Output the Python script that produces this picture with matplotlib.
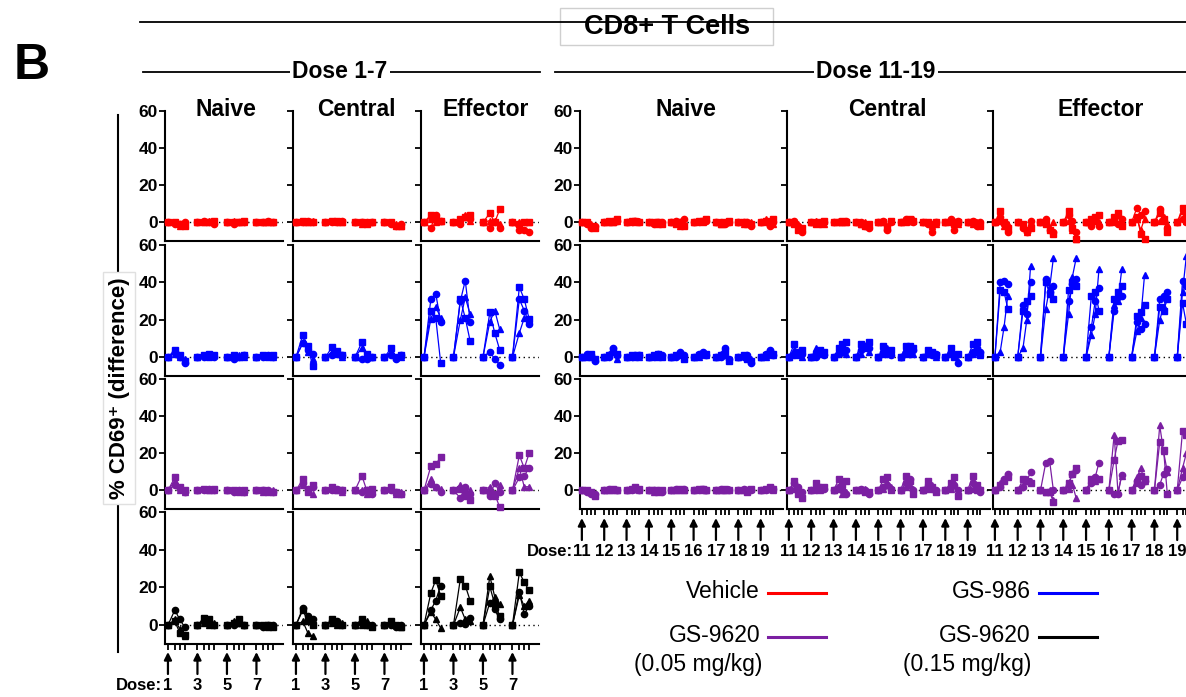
import numpy as np
import matplotlib
matplotlib.use('Agg')
import matplotlib.pyplot as plt
from matplotlib.lines import Line2D
from matplotlib.patches import Rectangle
import matplotlib.transforms as mtransforms

plt.rcParams['font.family'] = ['Liberation Sans', 'DejaVu Sans']

W, H = 1186, 697

# sampling inside each dosing window, and doses shown
time_offsets = [0, 1.4, 2.4, 3.4]
window_step = 6
left_doses = ['1', '3', '5', '7']
right_doses = ['11', '12', '13', '14', '15', '16', '17', '18', '19']
markers = ['s', 'o', '^']
col_titles = ['Naive', 'Central', 'Effector']

red = '#ff0000'
blue = '#0000ff'
purple = '#7b1fa2'
black = '#000000'

# each window: [square animal, circle animal, triangle animal], values after baseline 0
# ---- Dose 1-7 ----
L_veh_naive = [[[0, -1, -2], [-1, -1, 0], [0, -2, -1]],
               [[0, 0, 1], [1, 0, -1], [0, 1, 0]],
               [[0, 0, 1], [-1, 0, 0], [1, 0, 0]],
               [[0, 0, 0], [0, 1, 0], [0, 0, 0]]]
L_veh_central = [[[1, 0, 0], [0, 1, 0], [0, 0, 1]],
                 [[1, 1, 0], [0, 0, 1], [1, 0, 0]],
                 [[0, -1, 0], [0, 0, 0], [-1, 0, 0]],
                 [[0, -2, -2], [-1, -2, -1], [0, -1, -2]]]
L_veh_effector = [[[4, 2, 1], [-3, 4, 1], [2, 0, 1]],
                  [[2, 3, 4], [-1, 3, 2], [1, 4, 1]],
                  [[5, 0, 7], [-3, 0, -3], [1, 1, -1]],
                  [[-1, 0, 0], [-4, -4, -5], [0, 0, 0]]]

L_986_naive = [[[4, 1, -2], [3, 0, -3], [2, 0, -1]],
               [[1, 2, 1], [0, 1, 0], [1, 0, 1]],
               [[1, 0, 1], [-1, 0, 1], [0, 1, 0]],
               [[1, 0, 1], [0, 1, 0], [1, 1, 0]]]
L_986_central = [[[12, 6, -4.5], [7.5, 4, 2], [8, 3, -1]],
                 [[5.7, 3.6, 1], [1, 3, 1], [3, 2, 0]],
                 [[8, 2, 0], [-1, -1, 0], [5, 1, 0]],
                 [[5, 0, 1], [1, -1, 1], [3, 0, 0]]]
L_986_effector = [[[24.6, 21, -3], [31, 34, 19], [20.5, 27, 21]],
                  [[31, 21, 8.6], [30, 41, 19], [20, 32, 23]],
                  [[24, 13, 4], [3, -1, -4], [19, 25, 15]],
                  [[37.5, 31, 20.5], [31, 25, 18], [13, 21, 20]]]

L_lo_naive = [[[7, 2, 0], [3, 1, -1], [5, 0, -1]],
              [[1, 0, 1], [0, 1, 0], [1, 0, 0]],
              [[0, -1, 0], [-1, 0, -1], [0, 0, -1]],
              [[0, -1, -1], [0, 0, -1], [-1, 0, 0]]]
L_lo_central = [[[6, -1, 3], [4, 1, 2], [3, 0, -2]],
                [[2, 0, 0], [0, 1, 0], [1, 0, -1]],
                [[8, 0, 1], [-1, 0, -2], [0, -2, -1]],
                [[2, -1, -2], [0, -1, -2], [1, -2, -1]]]
L_lo_effector = [[[13, 14, 18], [3.5, 2, -1], [6, 2, 1]],
                 [[1, -3, -5], [-4, 2, -2], [3, 1, 0]],
                 [[-1, -2, -9], [-3, 4, -1], [2, -3, 3]],
                 [[19, 12, 20], [7, 8, 12], [12, 2, 2]]]

L_hi_naive = [[[2, -4, -5], [8, 3, -1], [3, -2, -6]],
              [[4, 3, 0], [2, 1, 0], [1, 0, 1]],
              [[1, 3, 0], [0, 1, 0], [2, 1, 0]],
              [[0, 0, -1], [-1, 0, 0], [0, -1, 0]]]
L_hi_central = [[[8, 2, 0], [9, 5, 3], [2, -4, -6]],
                [[3, 1, 0], [2, 2, 0], [1, 0, 1]],
                [[3, 0, -1], [1, 0, 0], [0, 2, 0]],
                [[2, 0, -1], [0, -1, 0], [1, 0, -1]]]
L_hi_effector = [[[17, 24, 15.5], [8, 13, 21], [7, 3, -1.5]],
                 [[24.5, 21, 13], [1, 0.5, 4], [9.5, 3, 2]],
                 [[20.5, 11, 5], [12, 8.4, 3], [26, 15, 11]],
                 [[28, 22.7, 18.4], [17.7, 6, 10], [16, 10, 13]]]

# ---- Dose 11-19 ----
R_veh_naive = [[[0, -2, -3], [-1, -3, -2], [0, -1, -2]],
               [[1, 0, 2], [0, 1, 1], [0, 0, 1]],
               [[1, 1, 0], [0, 1, 0], [1, 0, 1]],
               [[0, 0, -1], [-1, 0, 0], [0, -1, 0]],
               [[-1, 0, -2], [1, 0, 2], [0, -2, -1]],
               [[1, 1, 2], [0, 1, 1], [1, 0, 2]],
               [[-1, 0, 1], [0, -1, 0], [-1, 0, 0]],
               [[0, -1, -1], [0, 0, -2], [-1, 0, 0]],
               [[1, -1, 2], [0, -2, 0], [2, 1, -1]]]
R_veh_central = [[[-1, -4, -3], [1, -2, -5], [0, -1, -3]],
                 [[-1, 0, 1], [0, -1, 0], [1, 0, -1]],
                 [[0, 1, 0], [0, 0, 1], [1, 0, 0]],
                 [[-1, -2, -1], [0, -2, -3], [-1, 0, -2]],
                 [[0, -3, 1], [1, -4, 0], [0, -2, 1]],
                 [[1, 2, 1], [2, 1, 0], [0, 1, 2]],
                 [[0, -1, 0], [-1, -5, 0], [0, -2, -1]],
                 [[1, -1, 0], [2, -4, 1], [0, 1, -1]],
                 [[0, -1, -2], [1, -2, 0], [-1, 0, -1]]]
R_veh_effector = [[[6, 0, -3], [3, -1, -5], [1, -2, -1]],
                  [[-1, -4, -3], [-3, -5, 1], [-2, -5, 0]],
                  [[-1, -4, -6], [2, -4, -5], [1, -3, 0]],
                  [[6, -3, -9], [4, 1, -5], [1, -4, -9]],
                  [[2, 3, 4], [-2, 1, -2], [1, 2, 0]],
                  [[3, 5, -2], [2, -1, 2], [0, 4, 1]],
                  [[3, -6, -9], [8, 4, 6], [2, -4, 2]],
                  [[5, 2, -5], [7, 1, -3], [1, 3, -1]],
                  [[8, 4, -1], [2, 0, -3], [6, 1, 2]]]

R_986_naive = [[[0, 2, -1], [2, 1, -2], [1, 0, -1]],
               [[1, 4, 2], [0, 5, 1], [2, 3, -1]],
               [[1, 0, 1], [0, 1, 1], [1, 1, 0]],
               [[1, 2, 0], [0, 2, 1], [1, 0, 1]],
               [[1, 2, -1], [0, 3, 1], [1, 1, 0]],
               [[1, 2, 2], [2, 3, 1], [0, 2, 1]],
               [[1, 3, -2], [0, 5, -1], [2, 1, -1]],
               [[1, -1, -2], [0, 1, -3], [1, 0, -1]],
               [[1, 3, 2], [2, 4, 1], [0, 2, 1]]]
R_986_central = [[[7, 2, 4], [1, 3, 2], [4, 1, 0]],
                 [[2, 4, 3], [0, 3, 1], [5, 2, 3]],
                 [[5, 7, 8], [2, 3, 4], [3, 6, 2]],
                 [[7, 6, 8], [4, 6, 5], [2, 5, 3]],
                 [[6, 3, 4], [3, 2, 1], [2, 5, 3]],
                 [[6, 6, 5], [3, 2, 4], [2, 5, 2]],
                 [[4, 3, 1], [2, 1, 2], [3, 2, 0]],
                 [[5, 0, 2], [3, 1, -3], [2, 1, -2]],
                 [[7, 8, 2], [3, 5, 3], [2, 3, 1]]]
R_986_effector = [[[36, 35, 26], [40, 41, 39], [3, 16, 33]],
                  [[25, 30, 33], [28, 23, 40], [5, 20, 49]],
                  [[40, 34, 31], [42, 35, 38], [26, 37, 53]],
                  [[36, 40, 38], [30, 39, 42], [23, 43, 53]],
                  [[33, 35, 25], [16, 30, 37], [12, 23, 47]],
                  [[31, 35, 38], [25, 32, 33], [28, 30, 47]],
                  [[22, 24, 28], [19, 15, 18], [14, 21, 44]],
                  [[27, 25, 31], [31, 33, 35], [20, 27, 32]],
                  [[29, 18, 20], [41, 38, 25], [35, 54, 20]]]

R_lo_naive = [[[0, -1, -3], [-1, -2, -2], [0, -1, -2]],
              [[0, 1, 0], [1, 0, 0], [0, 1, 0]],
              [[1, 2, 1], [0, 1, 0], [1, 1, 0]],
              [[0, -1, 0], [0, 0, -1], [-1, 0, 0]],
              [[0, 1, 0], [1, 0, 1], [0, 1, 0]],
              [[1, 1, 0], [0, 1, 0], [1, 0, 0]],
              [[0, 1, 0], [1, 0, 0], [0, 0, 1]],
              [[0, -1, 1], [1, 0, 0], [0, 0, 1]],
              [[1, 2, 1], [0, 1, 1], [1, 1, 0]]]
R_lo_central = [[[5, -2, -4], [4, 2, -1], [1, -1, -3]],
                [[4, 1, 2], [0, 2, 1], [1, 0, 2]],
                [[6, 3, 5], [2, 0, -2], [1, -2, -1]],
                [[0, -1, -1], [1, 0, -2], [0, 1, -1]],
                [[6, 7, 0], [2, 3, 1], [1, 4, 2]],
                [[8, 5, -2], [4, 6, 0], [2, 3, 1]],
                [[5, 2, -1], [3, 1, 0], [1, 3, 0]],
                [[4, 7, -3], [2, 3, 0], [1, 4, -1]],
                [[8, 3, 0], [4, 2, -1], [1, 0, 1]]]
R_lo_effector = [[[3, 5, 8], [2, 6, 9], [4, 6, 7]],
                 [[6, 5, 4], [2, 5, 10], [3, 6, 5]],
                 [[-1, -1, -6], [15, 16, 0], [-1, 0, -5]],
                 [[4, 9, 12], [3, 9, 11], [1, 3, -4]],
                 [[6, 6, 6], [4, 7, 15], [5, 5, 6]],
                 [[16.5, 26.5, 27], [-2, -2, 8.5], [30, -1, 8]],
                 [[4, 8, 6], [5, 3, 5], [7, 12, 5]],
                 [[26, 22, -2], [3, 9, 11.5], [35, 21, 10]],
                 [[32, 30, 28], [7, 10, 6], [12, 20, 18]]]

left_rows = [(red, [L_veh_naive, L_veh_central, L_veh_effector]),
             (blue, [L_986_naive, L_986_central, L_986_effector]),
             (purple, [L_lo_naive, L_lo_central, L_lo_effector]),
             (black, [L_hi_naive, L_hi_central, L_hi_effector])]
right_rows = [(red, [R_veh_naive, R_veh_central, R_veh_effector]),
              (blue, [R_986_naive, R_986_central, R_986_effector]),
              (purple, [R_lo_naive, R_lo_central, R_lo_effector])]


def fx(px):
    return px / W


def fy(py):
    return 1 - py / H


fig = plt.figure(figsize=(W / 100, H / 100), dpi=100)

row_px = [(111, 241), (245, 376), (379, 509), (512, 644)]
left_cols = [(165, 283), (293, 411), (421, 539)]
right_cols = [(580, 783), (787, 990), (993, 1200)]


def panel(l, r, t, b, xlim, first, bottom, windows, color, doses, arrow_px, label_px):
    ax = fig.add_axes([fx(l), fy(b), (r - l) / W, (b - t) / H])
    ax.set_xlim(*xlim)
    ax.set_ylim(-10, 60)
    for s in ['top', 'right']:
        ax.spines[s].set_visible(False)
    for s in ['left', 'bottom']:
        ax.spines[s].set_linewidth(1.5)
    ax.axhline(0, color='black', lw=1, ls=(0, (1, 2.5)), zorder=1)
    for i, win in enumerate(windows):
        xs = [i * window_step + t for t in time_offsets]
        for m, vals in zip(markers, win):
            ys = [0] + list(vals)
            ax.plot(xs, ys, color=color, lw=0.9, marker=m,
                    ms=4.5 if m != '^' else 5, clip_on=False, zorder=3)
    ax.set_yticks([0, 20, 40, 60])
    ax.tick_params(axis='y', length=4, width=1.3, labelsize=12.5,
                   labelleft=first, pad=1)
    for lab in ax.get_yticklabels():
        lab.set_fontweight('bold')
    if bottom:
        ticks = [i * window_step + t for i in range(len(doses)) for t in time_offsets]
        ax.set_xticks(ticks)
        ax.tick_params(axis='x', length=4, width=1.3, labelbottom=False)
        trans = mtransforms.blended_transform_factory(ax.transData, fig.transFigure)
        for i, d in enumerate(doses):
            x = i * window_step
            ax.annotate('', xy=(x, fy(arrow_px[0])), xytext=(x, fy(arrow_px[1])),
                        xycoords=trans, textcoords=trans, annotation_clip=False,
                        arrowprops=dict(arrowstyle='-|>', color='black', lw=1.6,
                                        mutation_scale=11, shrinkA=0, shrinkB=0))
            ax.text(x, fy(label_px), d, transform=trans, ha='center', va='center',
                    fontsize=12, fontweight='bold', clip_on=False)
    else:
        ax.set_xticks([])
    return ax


for ri, (color, panels) in enumerate(left_rows):
    t, b = row_px[ri]
    for ci, (l, r) in enumerate(left_cols):
        panel(l, r, t, b, (-0.6, 23.4), ci == 0, ri == 3, panels[ci], color,
              left_doses, (652, 674), 686)

for ri, (color, panels) in enumerate(right_rows):
    t, b = row_px[ri]
    for ci, (l, r) in enumerate(right_cols):
        panel(l, r, t, b, (-0.5, 54.0), ci == 0, ri == 2, panels[ci], color,
              right_doses, (518, 540), 551)

# column titles
for x, s in zip([226, 356, 486, 686, 887, 1101], col_titles * 2):
    fig.text(fx(x), fy(110), s, ha='center', va='center', fontsize=16.5, fontweight='bold')

fig.text(fx(162), fy(686), 'Dose:', ha='right', va='center', fontsize=12, fontweight='bold')
fig.text(fx(573), fy(551), 'Dose:', ha='right', va='center', fontsize=12, fontweight='bold')

# header
fig.add_artist(Line2D([fx(140), fx(1186)], [fy(22), fy(22)], color='black', lw=1.3))
fig.add_artist(Rectangle((fx(560), fy(45)), 213 / W, 37 / H, transform=fig.transFigure,
                         facecolor='white', edgecolor='#cfcfcf', lw=1))
fig.text(fx(667), fy(27), 'CD8+ T Cells', ha='center', va='center', fontsize=19.5, fontweight='bold')

fig.add_artist(Line2D([fx(143), fx(540)], [fy(72), fy(72)], color='black', lw=1.3))
fig.add_artist(Line2D([fx(555), fx(1186)], [fy(72), fy(72)], color='black', lw=1.3))
fig.text(fx(340), fy(72), 'Dose 1-7', ha='center', va='center', fontsize=16.5, fontweight='bold',
         bbox=dict(facecolor='white', edgecolor='none', pad=2))
fig.text(fx(876), fy(72), 'Dose 11-19', ha='center', va='center', fontsize=16.5, fontweight='bold',
         bbox=dict(facecolor='white', edgecolor='none', pad=2))

fig.text(fx(32), fy(66), 'B', ha='center', va='center', fontsize=36, fontweight='bold')

# y label
fig.add_artist(Line2D([fx(118), fx(118)], [fy(115), fy(652)], color='black', lw=1.5))
fig.text(fx(119), fy(388), '% CD69\u207a (difference)', rotation=90, ha='center', va='center',
         fontsize=16, fontweight='bold',
         bbox=dict(facecolor='white', edgecolor='#e0e0e0', pad=4))

# legend
legend_items = [('Vehicle', red, 760, 592), ('GS-986', blue, 1031, 592),
                ('GS-9620', purple, 760, 636), ('GS-9620', black, 1031, 636)]
for label, c, x, y in legend_items:
    fig.text(fx(x), fy(y), label, ha='right', va='center', fontsize=16.5)
    fig.add_artist(Line2D([fx(x + 8), fx(x + 66)], [fy(y + 1), fy(y + 1)], color=c, lw=2.2))
fig.text(fx(762), fy(665), '(0.05 mg/kg)', ha='right', va='center', fontsize=16.5)
fig.text(fx(1031), fy(665), '(0.15 mg/kg)', ha='right', va='center', fontsize=16.5)

fig.savefig('out.png', dpi=100)
